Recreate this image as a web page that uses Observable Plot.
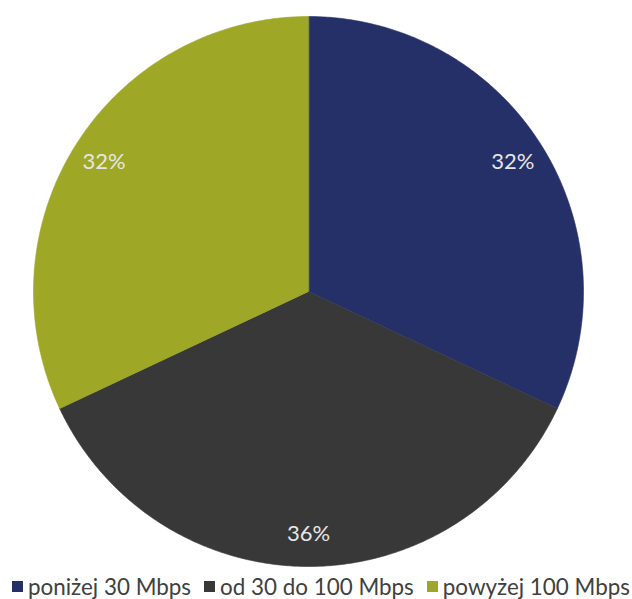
<!DOCTYPE html>
<html>
<head>
<meta charset="utf-8">
<script src="https://cdn.jsdelivr.net/npm/d3@7"></script>
<script src="https://cdn.jsdelivr.net/npm/@observablehq/plot@0.6"></script>
<style>
  html, body { margin: 0; padding: 0; background: #fff; overflow: hidden; }
  #chart { width: 632px; }
  #chart svg { display: block; }
  .legend { display: flex; align-items: center; height: 25px; line-height: 25px; padding-left: 12px;
            font-family: Lato, "Open Sans", sans-serif; font-size: 22.4px; color: #404040; white-space: nowrap; }
  .legend .item { display: flex; align-items: center; margin-right: 13px; }
  .legend .sw { width: 11px; height: 11px; margin-right: 5px; }
</style>
</head>
<body>
<div id="chart"></div>
<script>
// Share of connections by speed band
const categories = ["poniżej 30 Mbps", "od 30 do 100 Mbps", "powyżej 100 Mbps"];
const shares = [32, 36, 32];
const labels = ["32%", "36%", "32%"];
const colors = ["#253068", "#383838", "#9ea826"];

const total = d3.sum(shares);
const toRad = (f) => f * 2 * Math.PI;           // fraction of the circle -> radians, clockwise from top
const pt = (a, r) => [r * Math.sin(a), r * Math.cos(a)];

// Build one polygon per slice in unit-circle coordinates
let acc = 0;
const slices = categories.map((name, i) => {
  const a0 = toRad(acc / total);
  acc += shares[i];
  const a1 = toRad(acc / total);
  const n = Math.max(2, Math.ceil((a1 - a0) / (Math.PI / 360)));
  const ring = [[0, 0]];
  for (let k = 0; k <= n; ++k) ring.push(pt(a0 + (a1 - a0) * k / n, 1));
  ring.push([0, 0]);
  const mid = (a0 + a1) / 2;
  const [lx, ly] = pt(mid, 0.88);
  return {
    type: "Feature",
    properties: {name, value: shares[i], label: labels[i], lx, ly},
    geometry: {type: "Polygon", coordinates: [ring]}
  };
});

const frame = {
  type: "Feature",
  geometry: {type: "Polygon", coordinates: [[[-1, -1], [1, -1], [1, 1], [-1, 1], [-1, -1]]]}
};

const plot = Plot.plot({
  width: 632,
  height: 574,
  marginLeft: 33,
  marginRight: 49,
  marginTop: 16,
  marginBottom: 8,
  projection: {type: "reflect-y", domain: frame},
  color: {domain: categories, range: colors},
  marks: [
    Plot.geo(slices, {fill: (d) => d.properties.name, stroke: (d) => d.properties.name, strokeWidth: 0.6}),
    Plot.text(slices, {
      x: (d) => d.properties.lx,
      y: (d) => d.properties.ly,
      text: (d) => d.properties.label,
      fill: "#e6e6e6",
      fontSize: 22,
      fontFamily: "Lato, 'Open Sans', sans-serif"
    })
  ]
});

const root = document.getElementById("chart");
root.appendChild(plot);

const legend = document.createElement("div");
legend.className = "legend";
categories.forEach((name, i) => {
  const item = document.createElement("span");
  item.className = "item";
  const sw = document.createElement("span");
  sw.className = "sw";
  sw.style.background = colors[i];
  const tx = document.createElement("span");
  tx.textContent = name;
  item.appendChild(sw);
  item.appendChild(tx);
  legend.appendChild(item);
});
root.appendChild(legend);
</script>
</body>
</html>
